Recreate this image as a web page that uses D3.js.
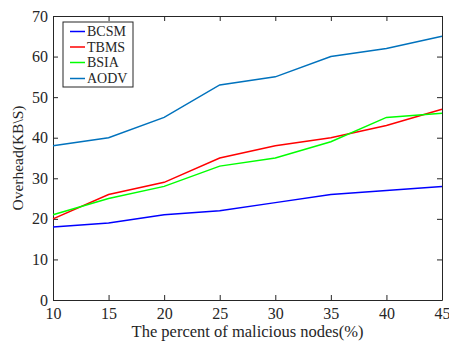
<!DOCTYPE html>
<html><head><meta charset="utf-8">
<script src="https://cdn.jsdelivr.net/npm/d3@7"></script>
<style>body{margin:0;background:#fff}svg{display:block}text{font-family:"Liberation Serif","Times New Roman",serif;fill:#262626}</style>
</head><body>
<script>
const xValues = [10, 15, 20, 25, 30, 35, 40, 45];
const seriesNames = ["BCSM", "TBMS", "BSIA", "AODV"];
const bcsm = [18, 19, 21, 22, 24, 26, 27, 28];
const tbms = [20, 26, 29, 35, 38, 40, 43, 47];
const bsia = [21, 25, 28, 33, 35, 39, 45, 46];
const aodv = [38, 40, 45, 53, 55, 60, 62, 65];
const yTicks = [0, 10, 20, 30, 40, 50, 60, 70];
const colors = ["#0000ff", "#ff0000", "#00ff00", "#0072bd"];

const W = 449, H = 342;
const m = {l: 53, r: 7, t: 16, b: 42};
const svg = d3.select("body").append("svg").attr("width", W).attr("height", H);
const x = d3.scaleLinear().domain([10, 45]).range([m.l, W - m.r]);
const y = d3.scaleLinear().domain([0, 70]).range([H - m.b, m.t]);
const data = [bcsm, tbms, bsia, aodv];

const g = svg.append("g");
const xb = g.append("g").attr("transform", `translate(0,${y(0)})`)
  .call(d3.axisBottom(x).tickValues(xValues).tickSizeInner(-5).tickSizeOuter(0).tickPadding(8));
const xt = g.append("g").attr("transform", `translate(0,${y(70)})`)
  .call(d3.axisTop(x).tickValues(xValues).tickSizeInner(-5).tickSizeOuter(0).tickFormat(""));
const yl = g.append("g").attr("transform", `translate(${x(10)},0)`)
  .call(d3.axisLeft(y).tickValues(yTicks).tickSizeInner(-5).tickSizeOuter(0).tickPadding(5));
const yr = g.append("g").attr("transform", `translate(${x(45)},0)`)
  .call(d3.axisRight(y).tickValues(yTicks).tickSizeInner(-5).tickSizeOuter(0).tickFormat(""));
[xb, xt, yl, yr].forEach(a => {
  a.select(".domain").attr("stroke", "#262626").attr("stroke-width", 1);
  a.selectAll(".tick line").attr("stroke", "#262626");
  a.selectAll("text").attr("font-size", 16).attr("font-family", "Liberation Serif").attr("fill", "#262626");
});

const line = d3.line().x((d, i) => x(xValues[i])).y(d => y(d));
data.forEach((s, k) => {
  g.append("path").datum(s).attr("d", line).attr("fill", "none")
    .attr("stroke", colors[k]).attr("stroke-width", 1.5);
});

const lg = svg.append("g");
lg.append("rect").attr("x", 63).attr("y", 22).attr("width", 70).attr("height", 65)
  .attr("fill", "#fff").attr("stroke", "#262626").attr("stroke-width", 1);
const ly = [31.5, 47, 62.5, 78.5];
seriesNames.forEach((n, k) => {
  lg.append("line").attr("x1", 70).attr("x2", 85).attr("y1", ly[k]).attr("y2", ly[k])
    .attr("stroke", colors[k]).attr("stroke-width", 1.5);
  lg.append("text").attr("x", 87).attr("y", ly[k]).attr("dy", "0.35em")
    .attr("font-size", 14).text(n);
});

svg.append("text").attr("x", (x(10) + x(45)) / 2).attr("y", 337).attr("text-anchor", "middle")
  .attr("font-size", 16.5).text("The percent of malicious nodes(%)");
svg.append("text").attr("transform", `translate(23,${(y(0) + y(70)) / 2}) rotate(-90)`)
  .attr("text-anchor", "middle").attr("font-size", 15.5).text("Overhead(KB\\S)");
</script>
</body></html>
